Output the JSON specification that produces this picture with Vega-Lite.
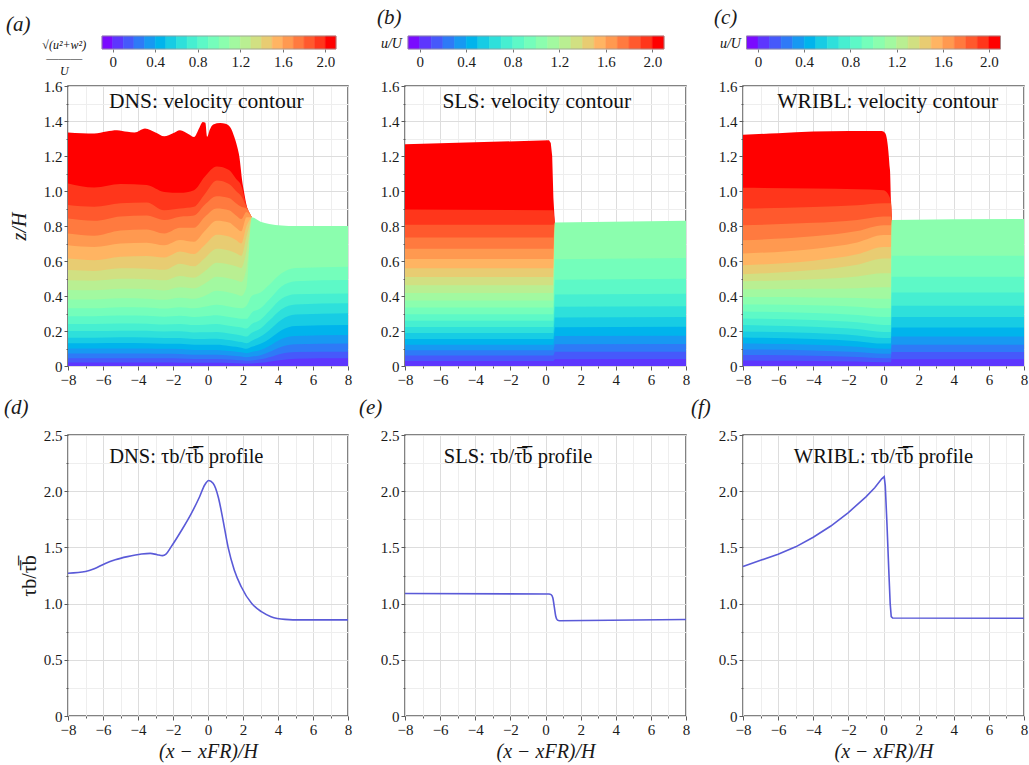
{
"$schema": "https://vega.github.io/schema/vega-lite/v6.json",
"background": "white",
"padding": {"left": 3, "top": 5, "right": 2, "bottom": 2},
"config": {
 "font": "Liberation Serif",
 "view": {"stroke": "#5a5a5a", "strokeWidth": 1.5},
 "axis": {"labelFont": "Liberation Serif", "labelFontSize": 15, "labelColor": "#1a1a1a", "titleFont": "Liberation Serif", "titleFontSize": 20, "titleFontWeight": "normal", "titleColor": "#1a1a1a", "tickColor": "#5a5a5a", "domain": false, "labelPadding": 2, "labelOverlap": false, "labelFlush": false, "labelBound": false},
 "title": {"font": "Liberation Serif", "fontSize": 21, "fontWeight": "normal", "color": "#1a1a1a", "anchor": "start", "frame": "group", "baseline": "alphabetic", "fontStyle": "italic"},
 "text": {"font": "Liberation Serif", "color": "#111111"}
},
"datasets": {
 "cbar": [
  {"k":0,"lo":-0.1,"hi":0},{"k":1,"lo":0,"hi":0.1},{"k":2,"lo":0.1,"hi":0.2},{"k":3,"lo":0.2,"hi":0.3},{"k":4,"lo":0.3,"hi":0.4},{"k":5,"lo":0.4,"hi":0.5},{"k":6,"lo":0.5,"hi":0.6},{"k":7,"lo":0.6,"hi":0.7},{"k":8,"lo":0.7,"hi":0.8},{"k":9,"lo":0.8,"hi":0.9},{"k":10,"lo":0.9,"hi":1.0},{"k":11,"lo":1.0,"hi":1.1},{"k":12,"lo":1.1,"hi":1.2},{"k":13,"lo":1.2,"hi":1.3},{"k":14,"lo":1.3,"hi":1.4},{"k":15,"lo":1.4,"hi":1.5},{"k":16,"lo":1.5,"hi":1.6},{"k":17,"lo":1.6,"hi":1.7},{"k":18,"lo":1.7,"hi":1.8},{"k":19,"lo":1.8,"hi":1.9},{"k":20,"lo":1.9,"hi":2.0},{"k":21,"lo":2.0,"hi":2.1}
 ],
 "dns": [
  {"x":-8,"k":21,"z":1.334},{"x":-7.2,"k":21,"z":1.33},{"x":-6.5,"k":21,"z":1.328},{"x":-5.8,"k":21,"z":1.34},{"x":-5.2,"k":21,"z":1.347},{"x":-4.6,"k":21,"z":1.338},{"x":-4.2,"k":21,"z":1.334},{"x":-3.6,"k":21,"z":1.357},{"x":-3,"k":21,"z":1.335},{"x":-2.5,"k":21,"z":1.313},{"x":-2,"k":21,"z":1.33},{"x":-1.6,"k":21,"z":1.347},{"x":-1.1,"k":21,"z":1.325},{"x":-0.8,"k":21,"z":1.309},{"x":-0.5,"k":21,"z":1.36},{"x":-0.3,"k":21,"z":1.395},{"x":-0.15,"k":21,"z":1.39},{"x":-0.05,"k":21,"z":1.31},{"x":0.1,"k":21,"z":1.35},{"x":0.3,"k":21,"z":1.38},{"x":0.7,"k":21,"z":1.388},{"x":1,"k":21,"z":1.385},{"x":1.3,"k":21,"z":1.36},{"x":1.5,"k":21,"z":1.31},{"x":1.65,"k":21,"z":1.26},{"x":1.8,"k":21,"z":1.19},{"x":1.95,"k":21,"z":1.06},{"x":2.05,"k":21,"z":1.0},{"x":2.2,"k":21,"z":0.92},{"x":2.35,"k":21,"z":0.87},{"x":2.5,"k":21,"z":0.85},
  {"x":-8,"k":20,"z":1.043},{"x":-6.5,"k":20,"z":1.02},{"x":-5,"k":20,"z":1.04},{"x":-3.5,"k":20,"z":1.035},{"x":-2.5,"k":20,"z":0.995},{"x":-1.6,"k":20,"z":0.99},{"x":-0.8,"k":20,"z":1.005},{"x":-0.2,"k":20,"z":1.08},{"x":0.5,"k":20,"z":1.14},{"x":1.2,"k":20,"z":1.12},{"x":1.6,"k":20,"z":1.07},{"x":1.9,"k":20,"z":1.03},{"x":2.2,"k":20,"z":0.915},{"x":2.5,"k":20,"z":0.85},
  {"x":-8,"k":19,"z":0.92},{"x":-6.5,"k":19,"z":0.91},{"x":-5,"k":19,"z":0.93},{"x":-3.5,"k":19,"z":0.935},{"x":-2.5,"k":19,"z":0.89},{"x":-1.6,"k":19,"z":0.9},{"x":-0.8,"k":19,"z":0.91},{"x":-0.2,"k":19,"z":0.98},{"x":0.5,"k":19,"z":1.06},{"x":1.2,"k":19,"z":1.04},{"x":1.6,"k":19,"z":1.0},{"x":1.9,"k":19,"z":0.97},{"x":2.2,"k":19,"z":0.91},{"x":2.5,"k":19,"z":0.85},
  {"x":-8,"k":18,"z":0.843},{"x":-6.5,"k":18,"z":0.83},{"x":-5,"k":18,"z":0.855},{"x":-3.5,"k":18,"z":0.86},{"x":-2.5,"k":18,"z":0.834},{"x":-1.6,"k":18,"z":0.853},{"x":-0.8,"k":18,"z":0.86},{"x":-0.2,"k":18,"z":0.92},{"x":0.5,"k":18,"z":0.97},{"x":1.2,"k":18,"z":0.96},{"x":1.6,"k":18,"z":0.93},{"x":1.9,"k":18,"z":0.91},{"x":2.2,"k":18,"z":0.9},{"x":2.5,"k":18,"z":0.85},
  {"x":-8,"k":17,"z":0.757},{"x":-6.5,"k":17,"z":0.745},{"x":-5,"k":17,"z":0.775},{"x":-3.5,"k":17,"z":0.78},{"x":-2.5,"k":17,"z":0.757},{"x":-1.6,"k":17,"z":0.79},{"x":-0.8,"k":17,"z":0.79},{"x":-0.2,"k":17,"z":0.85},{"x":0.5,"k":17,"z":0.9},{"x":1.2,"k":17,"z":0.89},{"x":1.6,"k":17,"z":0.86},{"x":1.9,"k":17,"z":0.84},{"x":2.2,"k":17,"z":0.88},{"x":2.5,"k":17,"z":0.85},
  {"x":-8,"k":16,"z":0.69},{"x":-6.5,"k":16,"z":0.68},{"x":-5,"k":16,"z":0.7},{"x":-3.5,"k":16,"z":0.705},{"x":-2.5,"k":16,"z":0.69},{"x":-1.6,"k":16,"z":0.72},{"x":-0.8,"k":16,"z":0.71},{"x":-0.2,"k":16,"z":0.77},{"x":0.5,"k":16,"z":0.83},{"x":1.2,"k":16,"z":0.82},{"x":1.6,"k":16,"z":0.79},{"x":1.9,"k":16,"z":0.77},{"x":2.2,"k":16,"z":0.85},{"x":2.5,"k":16,"z":0.85},
  {"x":-8,"k":15,"z":0.614},{"x":-6.5,"k":15,"z":0.605},{"x":-5,"k":15,"z":0.625},{"x":-3.5,"k":15,"z":0.628},{"x":-2.5,"k":15,"z":0.62},{"x":-1.6,"k":15,"z":0.655},{"x":-0.8,"k":15,"z":0.64},{"x":-0.2,"k":15,"z":0.69},{"x":0.5,"k":15,"z":0.75},{"x":1.2,"k":15,"z":0.74},{"x":1.6,"k":15,"z":0.72},{"x":1.9,"k":15,"z":0.7},{"x":2.2,"k":15,"z":0.8},{"x":2.5,"k":15,"z":0.85},
  {"x":-8,"k":14,"z":0.548},{"x":-6.5,"k":14,"z":0.543},{"x":-5,"k":14,"z":0.558},{"x":-3.5,"k":14,"z":0.556},{"x":-2.5,"k":14,"z":0.55},{"x":-1.6,"k":14,"z":0.585},{"x":-0.8,"k":14,"z":0.57},{"x":-0.2,"k":14,"z":0.615},{"x":0.5,"k":14,"z":0.67},{"x":1.2,"k":14,"z":0.66},{"x":1.6,"k":14,"z":0.645},{"x":1.9,"k":14,"z":0.63},{"x":2.2,"k":14,"z":0.74},{"x":2.5,"k":14,"z":0.85},
  {"x":-8,"k":13,"z":0.49},{"x":-6.5,"k":13,"z":0.487},{"x":-5,"k":13,"z":0.498},{"x":-3.5,"k":13,"z":0.496},{"x":-2.5,"k":13,"z":0.49},{"x":-1.6,"k":13,"z":0.515},{"x":-0.8,"k":13,"z":0.505},{"x":-0.2,"k":13,"z":0.54},{"x":0.5,"k":13,"z":0.59},{"x":1.2,"k":13,"z":0.58},{"x":1.6,"k":13,"z":0.57},{"x":1.9,"k":13,"z":0.56},{"x":2.2,"k":13,"z":0.66},{"x":2.5,"k":13,"z":0.85},
  {"x":-8,"k":12,"z":0.435},{"x":-6.5,"k":12,"z":0.433},{"x":-5,"k":12,"z":0.442},{"x":-3.5,"k":12,"z":0.44},{"x":-2.5,"k":12,"z":0.432},{"x":-1.6,"k":12,"z":0.45},{"x":-0.8,"k":12,"z":0.443},{"x":-0.2,"k":12,"z":0.47},{"x":0.5,"k":12,"z":0.51},{"x":1.2,"k":12,"z":0.5},{"x":1.6,"k":12,"z":0.49},{"x":1.9,"k":12,"z":0.48},{"x":2.2,"k":12,"z":0.56},{"x":2.5,"k":12,"z":0.85},
  {"x":-8,"k":11,"z":0.38},{"x":-6.5,"k":11,"z":0.38},{"x":-5,"k":11,"z":0.387},{"x":-3.5,"k":11,"z":0.385},{"x":-2.5,"k":11,"z":0.378},{"x":-1.6,"k":11,"z":0.39},{"x":-0.8,"k":11,"z":0.384},{"x":-0.2,"k":11,"z":0.4},{"x":0.5,"k":11,"z":0.43},{"x":1.2,"k":11,"z":0.42},{"x":1.6,"k":11,"z":0.41},{"x":1.9,"k":11,"z":0.4},{"x":2.2,"k":11,"z":0.45},{"x":2.5,"k":11,"z":0.85},{"x":3,"k":11,"z":0.825},{"x":3.5,"k":11,"z":0.812},{"x":4.2,"k":11,"z":0.803},{"x":5,"k":11,"z":0.8},{"x":8,"k":11,"z":0.8},
  {"x":-8,"k":10,"z":0.33},{"x":-6.5,"k":10,"z":0.33},{"x":-5,"k":10,"z":0.336},{"x":-3.5,"k":10,"z":0.334},{"x":-2.5,"k":10,"z":0.328},{"x":-1.6,"k":10,"z":0.336},{"x":-0.8,"k":10,"z":0.33},{"x":-0.2,"k":10,"z":0.338},{"x":0.5,"k":10,"z":0.35},{"x":1.2,"k":10,"z":0.34},{"x":1.6,"k":10,"z":0.333},{"x":1.9,"k":10,"z":0.33},{"x":2.2,"k":10,"z":0.345},{"x":2.5,"k":10,"z":0.4},{"x":3,"k":10,"z":0.42},{"x":3.5,"k":10,"z":0.465},{"x":4.2,"k":10,"z":0.53},{"x":5,"k":10,"z":0.56},{"x":8,"k":10,"z":0.567},
  {"x":-8,"k":9,"z":0.285},{"x":-6.5,"k":9,"z":0.285},{"x":-5,"k":9,"z":0.289},{"x":-3.5,"k":9,"z":0.287},{"x":-2.5,"k":9,"z":0.282},{"x":-1.6,"k":9,"z":0.287},{"x":-0.8,"k":9,"z":0.28},{"x":-0.2,"k":9,"z":0.284},{"x":0.5,"k":9,"z":0.29},{"x":1.2,"k":9,"z":0.28},{"x":1.6,"k":9,"z":0.274},{"x":1.9,"k":9,"z":0.27},{"x":2.2,"k":9,"z":0.27},{"x":2.5,"k":9,"z":0.305},{"x":3,"k":9,"z":0.33},{"x":3.5,"k":9,"z":0.38},{"x":4.2,"k":9,"z":0.455},{"x":5,"k":9,"z":0.485},{"x":8,"k":9,"z":0.491},
  {"x":-8,"k":8,"z":0.24},{"x":-6.5,"k":8,"z":0.24},{"x":-5,"k":8,"z":0.243},{"x":-3.5,"k":8,"z":0.242},{"x":-2.5,"k":8,"z":0.237},{"x":-1.6,"k":8,"z":0.24},{"x":-0.8,"k":8,"z":0.234},{"x":-0.2,"k":8,"z":0.236},{"x":0.5,"k":8,"z":0.24},{"x":1.2,"k":8,"z":0.23},{"x":1.6,"k":8,"z":0.224},{"x":1.9,"k":8,"z":0.22},{"x":2.2,"k":8,"z":0.214},{"x":2.5,"k":8,"z":0.24},{"x":3,"k":8,"z":0.265},{"x":3.5,"k":8,"z":0.315},{"x":4.2,"k":8,"z":0.385},{"x":5,"k":8,"z":0.41},{"x":8,"k":8,"z":0.415},
  {"x":-8,"k":7,"z":0.2},{"x":-6.5,"k":7,"z":0.2},{"x":-5,"k":7,"z":0.202},{"x":-3.5,"k":7,"z":0.201},{"x":-2.5,"k":7,"z":0.197},{"x":-1.6,"k":7,"z":0.198},{"x":-0.8,"k":7,"z":0.192},{"x":-0.2,"k":7,"z":0.193},{"x":0.5,"k":7,"z":0.195},{"x":1.2,"k":7,"z":0.186},{"x":1.6,"k":7,"z":0.18},{"x":1.9,"k":7,"z":0.175},{"x":2.2,"k":7,"z":0.168},{"x":2.5,"k":7,"z":0.19},{"x":3,"k":7,"z":0.215},{"x":3.5,"k":7,"z":0.26},{"x":4.2,"k":7,"z":0.325},{"x":5,"k":7,"z":0.352},{"x":8,"k":7,"z":0.358},
  {"x":-8,"k":6,"z":0.162},{"x":-6.5,"k":6,"z":0.162},{"x":-5,"k":6,"z":0.164},{"x":-3.5,"k":6,"z":0.163},{"x":-2.5,"k":6,"z":0.16},{"x":-1.6,"k":6,"z":0.16},{"x":-0.8,"k":6,"z":0.155},{"x":-0.2,"k":6,"z":0.155},{"x":0.5,"k":6,"z":0.156},{"x":1.2,"k":6,"z":0.148},{"x":1.6,"k":6,"z":0.142},{"x":1.9,"k":6,"z":0.137},{"x":2.2,"k":6,"z":0.13},{"x":2.5,"k":6,"z":0.145},{"x":3,"k":6,"z":0.168},{"x":3.5,"k":6,"z":0.205},{"x":4.2,"k":6,"z":0.265},{"x":5,"k":6,"z":0.294},{"x":8,"k":6,"z":0.301},
  {"x":-8,"k":5,"z":0.13},{"x":-6.5,"k":5,"z":0.13},{"x":-5,"k":5,"z":0.131},{"x":-3.5,"k":5,"z":0.13},{"x":-2.5,"k":5,"z":0.127},{"x":-1.6,"k":5,"z":0.127},{"x":-0.8,"k":5,"z":0.122},{"x":-0.2,"k":5,"z":0.122},{"x":0.5,"k":5,"z":0.122},{"x":1.2,"k":5,"z":0.115},{"x":1.6,"k":5,"z":0.11},{"x":1.9,"k":5,"z":0.105},{"x":2.2,"k":5,"z":0.099},{"x":2.5,"k":5,"z":0.11},{"x":3,"k":5,"z":0.127},{"x":3.5,"k":5,"z":0.155},{"x":4.2,"k":5,"z":0.205},{"x":5,"k":5,"z":0.228},{"x":8,"k":5,"z":0.234},
  {"x":-8,"k":4,"z":0.1},{"x":-6.5,"k":4,"z":0.1},{"x":-5,"k":4,"z":0.1},{"x":-3.5,"k":4,"z":0.1},{"x":-2.5,"k":4,"z":0.098},{"x":-1.6,"k":4,"z":0.097},{"x":-0.8,"k":4,"z":0.092},{"x":-0.2,"k":4,"z":0.092},{"x":0.5,"k":4,"z":0.092},{"x":1.2,"k":4,"z":0.086},{"x":1.6,"k":4,"z":0.082},{"x":1.9,"k":4,"z":0.078},{"x":2.2,"k":4,"z":0.073},{"x":2.5,"k":4,"z":0.08},{"x":3,"k":4,"z":0.092},{"x":3.5,"k":4,"z":0.115},{"x":4.2,"k":4,"z":0.155},{"x":5,"k":4,"z":0.172},{"x":8,"k":4,"z":0.177},
  {"x":-8,"k":3,"z":0.072},{"x":-6.5,"k":3,"z":0.072},{"x":-5,"k":3,"z":0.072},{"x":-3.5,"k":3,"z":0.072},{"x":-2.5,"k":3,"z":0.07},{"x":-1.6,"k":3,"z":0.069},{"x":-0.8,"k":3,"z":0.065},{"x":-0.2,"k":3,"z":0.065},{"x":0.5,"k":3,"z":0.065},{"x":1.2,"k":3,"z":0.06},{"x":1.6,"k":3,"z":0.057},{"x":1.9,"k":3,"z":0.054},{"x":2.2,"k":3,"z":0.05},{"x":2.5,"k":3,"z":0.054},{"x":3,"k":3,"z":0.062},{"x":3.5,"k":3,"z":0.08},{"x":4.2,"k":3,"z":0.11},{"x":5,"k":3,"z":0.125},{"x":8,"k":3,"z":0.129},
  {"x":-8,"k":2,"z":0.045},{"x":-6.5,"k":2,"z":0.045},{"x":-5,"k":2,"z":0.045},{"x":-3.5,"k":2,"z":0.045},{"x":-2.5,"k":2,"z":0.044},{"x":-1.6,"k":2,"z":0.043},{"x":-0.8,"k":2,"z":0.04},{"x":-0.2,"k":2,"z":0.04},{"x":0.5,"k":2,"z":0.04},{"x":1.2,"k":2,"z":0.037},{"x":1.6,"k":2,"z":0.035},{"x":1.9,"k":2,"z":0.033},{"x":2.2,"k":2,"z":0.03},{"x":2.5,"k":2,"z":0.032},{"x":3,"k":2,"z":0.038},{"x":3.5,"k":2,"z":0.05},{"x":4.2,"k":2,"z":0.07},{"x":5,"k":2,"z":0.08},{"x":8,"k":2,"z":0.082},
  {"x":-8,"k":1,"z":0.02},{"x":-6.5,"k":1,"z":0.02},{"x":-5,"k":1,"z":0.02},{"x":-3.5,"k":1,"z":0.02},{"x":-2.5,"k":1,"z":0.02},{"x":-1.6,"k":1,"z":0.019},{"x":-0.8,"k":1,"z":0.018},{"x":-0.2,"k":1,"z":0.018},{"x":0.5,"k":1,"z":0.018},{"x":1.2,"k":1,"z":0.017},{"x":1.6,"k":1,"z":0.016},{"x":1.9,"k":1,"z":0.015},{"x":2.2,"k":1,"z":0.014},{"x":2.5,"k":1,"z":0.015},{"x":3,"k":1,"z":0.018},{"x":3.5,"k":1,"z":0.025},{"x":4.2,"k":1,"z":0.035},{"x":5,"k":1,"z":0.042},{"x":8,"k":1,"z":0.044}
 ],
 "sls": [
  {"x":-8,"k":21,"z":1.267},{"x":0.2,"k":21,"z":1.29},{"x":0.3,"k":21,"z":1.275},{"x":0.38,"k":21,"z":1.2},{"x":0.45,"k":21,"z":0.96},{"x":0.53,"k":21,"z":0.82},
  {"x":-8,"k":20,"z":0.894},{"x":0.2,"k":20,"z":0.89},{"x":0.45,"k":20,"z":0.89},{"x":0.53,"k":20,"z":0.82},
  {"x":-8,"k":19,"z":0.807},{"x":0.2,"k":19,"z":0.807},{"x":0.45,"k":19,"z":0.807},{"x":0.53,"k":19,"z":0.82},
  {"x":-8,"k":18,"z":0.734},{"x":0.2,"k":18,"z":0.734},{"x":0.45,"k":18,"z":0.734},{"x":0.53,"k":18,"z":0.82},
  {"x":-8,"k":17,"z":0.67},{"x":0.2,"k":17,"z":0.67},{"x":0.45,"k":17,"z":0.67},{"x":0.53,"k":17,"z":0.82},
  {"x":-8,"k":16,"z":0.612},{"x":0.2,"k":16,"z":0.612},{"x":0.45,"k":16,"z":0.612},{"x":0.53,"k":16,"z":0.82},
  {"x":-8,"k":15,"z":0.558},{"x":0.2,"k":15,"z":0.558},{"x":0.45,"k":15,"z":0.558},{"x":0.53,"k":15,"z":0.82},
  {"x":-8,"k":14,"z":0.508},{"x":0.2,"k":14,"z":0.508},{"x":0.45,"k":14,"z":0.508},{"x":0.53,"k":14,"z":0.82},
  {"x":-8,"k":13,"z":0.461},{"x":0.2,"k":13,"z":0.461},{"x":0.45,"k":13,"z":0.461},{"x":0.53,"k":13,"z":0.82},
  {"x":-8,"k":12,"z":0.417},{"x":0.2,"k":12,"z":0.417},{"x":0.45,"k":12,"z":0.417},{"x":0.53,"k":12,"z":0.82},
  {"x":-8,"k":11,"z":0.375},{"x":0.2,"k":11,"z":0.375},{"x":0.45,"k":11,"z":0.375},{"x":0.53,"k":11,"z":0.82},{"x":8,"k":11,"z":0.83},
  {"x":-8,"k":10,"z":0.335},{"x":0.2,"k":10,"z":0.335},{"x":0.45,"k":10,"z":0.335},{"x":0.53,"k":10,"z":0.61},{"x":8,"k":10,"z":0.617},
  {"x":-8,"k":9,"z":0.296},{"x":0.2,"k":9,"z":0.296},{"x":0.45,"k":9,"z":0.296},{"x":0.53,"k":9,"z":0.493},{"x":8,"k":9,"z":0.499},
  {"x":-8,"k":8,"z":0.259},{"x":0.2,"k":8,"z":0.259},{"x":0.45,"k":8,"z":0.259},{"x":0.53,"k":8,"z":0.408},{"x":8,"k":8,"z":0.413},
  {"x":-8,"k":7,"z":0.223},{"x":0.2,"k":7,"z":0.223},{"x":0.45,"k":7,"z":0.223},{"x":0.53,"k":7,"z":0.338},{"x":8,"k":7,"z":0.342},
  {"x":-8,"k":6,"z":0.188},{"x":0.2,"k":6,"z":0.188},{"x":0.45,"k":6,"z":0.188},{"x":0.53,"k":6,"z":0.277},{"x":8,"k":6,"z":0.28},
  {"x":-8,"k":5,"z":0.155},{"x":0.2,"k":5,"z":0.155},{"x":0.45,"k":5,"z":0.155},{"x":0.53,"k":5,"z":0.221},{"x":8,"k":5,"z":0.224},
  {"x":-8,"k":4,"z":0.122},{"x":0.2,"k":4,"z":0.122},{"x":0.45,"k":4,"z":0.122},{"x":0.53,"k":4,"z":0.171},{"x":8,"k":4,"z":0.173},
  {"x":-8,"k":3,"z":0.09},{"x":0.2,"k":3,"z":0.09},{"x":0.45,"k":3,"z":0.09},{"x":0.53,"k":3,"z":0.124},{"x":8,"k":3,"z":0.126},
  {"x":-8,"k":2,"z":0.06},{"x":0.2,"k":2,"z":0.06},{"x":0.45,"k":2,"z":0.06},{"x":0.53,"k":2,"z":0.081},{"x":8,"k":2,"z":0.082},
  {"x":-8,"k":1,"z":0.029},{"x":0.2,"k":1,"z":0.029},{"x":0.45,"k":1,"z":0.029},{"x":0.53,"k":1,"z":0.039},{"x":8,"k":1,"z":0.04}
 ],
 "wribl": [
  {"x":-8,"k":21,"z":1.322},{"x":-6,"k":21,"z":1.33},{"x":-4,"k":21,"z":1.34},{"x":-2,"k":21,"z":1.343},{"x":-0.1,"k":21,"z":1.343},{"x":0.1,"k":21,"z":1.33},{"x":0.37,"k":21,"z":1.12},{"x":0.42,"k":21,"z":0.95},{"x":0.47,"k":21,"z":0.835},
  {"x":-8,"k":20,"z":1.018},{"x":-4,"k":20,"z":1.015},{"x":-1.5,"k":20,"z":1.01},{"x":0,"k":20,"z":1.005},{"x":0.42,"k":20,"z":0.95},{"x":0.47,"k":20,"z":0.835},
  {"x":-8,"k":19,"z":0.9},{"x":-4,"k":19,"z":0.908},{"x":-1.5,"k":19,"z":0.918},{"x":0,"k":19,"z":0.93},{"x":0.42,"k":19,"z":0.93},{"x":0.47,"k":19,"z":0.835},
  {"x":-8,"k":18,"z":0.805},{"x":-4,"k":18,"z":0.818},{"x":-1.5,"k":18,"z":0.835},{"x":0,"k":18,"z":0.855},{"x":0.42,"k":18,"z":0.855},{"x":0.47,"k":18,"z":0.835},
  {"x":-8,"k":17,"z":0.719},{"x":-4,"k":17,"z":0.741},{"x":-1.5,"k":17,"z":0.771},{"x":0,"k":17,"z":0.805},{"x":0.42,"k":17,"z":0.805},{"x":0.47,"k":17,"z":0.835},
  {"x":-8,"k":16,"z":0.643},{"x":-4,"k":16,"z":0.669},{"x":-1.5,"k":16,"z":0.706},{"x":0,"k":16,"z":0.748},{"x":0.42,"k":16,"z":0.748},{"x":0.47,"k":16,"z":0.835},
  {"x":-8,"k":15,"z":0.576},{"x":-4,"k":15,"z":0.602},{"x":-1.5,"k":15,"z":0.638},{"x":0,"k":15,"z":0.68},{"x":0.42,"k":15,"z":0.68},{"x":0.47,"k":15,"z":0.835},
  {"x":-8,"k":14,"z":0.525},{"x":-4,"k":14,"z":0.548},{"x":-1.5,"k":14,"z":0.579},{"x":0,"k":14,"z":0.615},{"x":0.42,"k":14,"z":0.615},{"x":0.47,"k":14,"z":0.835},
  {"x":-8,"k":13,"z":0.484},{"x":-4,"k":13,"z":0.496},{"x":-1.5,"k":13,"z":0.512},{"x":0,"k":13,"z":0.53},{"x":0.42,"k":13,"z":0.53},{"x":0.47,"k":13,"z":0.835},
  {"x":-8,"k":12,"z":0.438},{"x":-4,"k":12,"z":0.441},{"x":-1.5,"k":12,"z":0.445},{"x":0,"k":12,"z":0.45},{"x":0.42,"k":12,"z":0.45},{"x":0.47,"k":12,"z":0.835},
  {"x":-8,"k":11,"z":0.394},{"x":-4,"k":11,"z":0.392},{"x":-1.5,"k":11,"z":0.389},{"x":0,"k":11,"z":0.385},{"x":0.42,"k":11,"z":0.385},{"x":0.47,"k":11,"z":0.835},{"x":8,"k":11,"z":0.84},
  {"x":-8,"k":10,"z":0.352},{"x":-4,"k":10,"z":0.347},{"x":-1.5,"k":10,"z":0.339},{"x":0,"k":10,"z":0.33},{"x":0.42,"k":10,"z":0.33},{"x":0.47,"k":10,"z":0.63},{"x":8,"k":10,"z":0.63},
  {"x":-8,"k":9,"z":0.311},{"x":-4,"k":9,"z":0.303},{"x":-1.5,"k":9,"z":0.292},{"x":0,"k":9,"z":0.28},{"x":0.42,"k":9,"z":0.28},{"x":0.47,"k":9,"z":0.51},{"x":8,"k":9,"z":0.51},
  {"x":-8,"k":8,"z":0.272},{"x":-4,"k":8,"z":0.263},{"x":-1.5,"k":8,"z":0.25},{"x":0,"k":8,"z":0.235},{"x":0.42,"k":8,"z":0.235},{"x":0.47,"k":8,"z":0.42},{"x":8,"k":8,"z":0.42},
  {"x":-8,"k":7,"z":0.234},{"x":-4,"k":7,"z":0.224},{"x":-1.5,"k":7,"z":0.211},{"x":0,"k":7,"z":0.195},{"x":0.42,"k":7,"z":0.195},{"x":0.47,"k":7,"z":0.345},{"x":8,"k":7,"z":0.345},
  {"x":-8,"k":6,"z":0.197},{"x":-4,"k":6,"z":0.188},{"x":-1.5,"k":6,"z":0.175},{"x":0,"k":6,"z":0.16},{"x":0.42,"k":6,"z":0.16},{"x":0.47,"k":6,"z":0.28},{"x":8,"k":6,"z":0.28},
  {"x":-8,"k":5,"z":0.163},{"x":-4,"k":5,"z":0.154},{"x":-1.5,"k":5,"z":0.142},{"x":0,"k":5,"z":0.128},{"x":0.42,"k":5,"z":0.128},{"x":0.47,"k":5,"z":0.22},{"x":8,"k":5,"z":0.22},
  {"x":-8,"k":4,"z":0.128},{"x":-4,"k":4,"z":0.121},{"x":-1.5,"k":4,"z":0.11},{"x":0,"k":4,"z":0.098},{"x":0.42,"k":4,"z":0.098},{"x":0.47,"k":4,"z":0.168},{"x":8,"k":4,"z":0.168},
  {"x":-8,"k":3,"z":0.095},{"x":-4,"k":3,"z":0.089},{"x":-1.5,"k":3,"z":0.08},{"x":0,"k":3,"z":0.07},{"x":0.42,"k":3,"z":0.07},{"x":0.47,"k":3,"z":0.122},{"x":8,"k":3,"z":0.122},
  {"x":-8,"k":2,"z":0.063},{"x":-4,"k":2,"z":0.059},{"x":-1.5,"k":2,"z":0.052},{"x":0,"k":2,"z":0.045},{"x":0.42,"k":2,"z":0.045},{"x":0.47,"k":2,"z":0.08},{"x":8,"k":2,"z":0.08},
  {"x":-8,"k":1,"z":0.031},{"x":-4,"k":1,"z":0.029},{"x":-1.5,"k":1,"z":0.026},{"x":0,"k":1,"z":0.022},{"x":0.42,"k":1,"z":0.022},{"x":0.47,"k":1,"z":0.039},{"x":8,"k":1,"z":0.039}
 ],
 "tdns": [
  {"x":-8,"t":1.27},{"x":-7,"t":1.285},{"x":-6.5,"t":1.31},{"x":-5.9,"t":1.355},{"x":-5.3,"t":1.39},{"x":-4.6,"t":1.418},{"x":-3.8,"t":1.441},{"x":-3.3,"t":1.447},{"x":-2.9,"t":1.435},{"x":-2.6,"t":1.427},{"x":-2.4,"t":1.44},{"x":-2.1,"t":1.507},{"x":-1.5,"t":1.655},{"x":-0.95,"t":1.803},{"x":-0.48,"t":1.951},{"x":-0.19,"t":2.055},{"x":0.04,"t":2.095},{"x":0.29,"t":2.07},{"x":0.6,"t":1.94},{"x":0.85,"t":1.75},{"x":1.15,"t":1.5},{"x":1.5,"t":1.3},{"x":1.9,"t":1.15},{"x":2.5,"t":1.0},{"x":3.05,"t":0.928},{"x":3.6,"t":0.884},{"x":4.4,"t":0.86},{"x":5.3,"t":0.855},{"x":8,"t":0.855}
 ],
 "tsls": [
  {"x":-8,"t":1.09},{"x":0.2,"t":1.085},{"x":0.32,"t":1.08},{"x":0.42,"t":1.05},{"x":0.5,"t":0.97},{"x":0.58,"t":0.89},{"x":0.68,"t":0.853},{"x":0.8,"t":0.848},{"x":8,"t":0.858}
 ],
 "twribl": [
  {"x":-8,"t":1.329},{"x":-7,"t":1.385},{"x":-6,"t":1.44},{"x":-5,"t":1.505},{"x":-4,"t":1.59},{"x":-3,"t":1.69},{"x":-2,"t":1.81},{"x":-1,"t":1.95},{"x":-0.5,"t":2.03},{"x":-0.1,"t":2.11},{"x":0.04,"t":2.13},{"x":0.1,"t":2.05},{"x":0.2,"t":1.7},{"x":0.3,"t":1.3},{"x":0.38,"t":1.0},{"x":0.44,"t":0.885},{"x":0.52,"t":0.872},{"x":8,"t":0.869}
 ]
},
"vconcat": [
 {"hconcat": [
  {"width": 280, "height": 280,
   "title": {"text": "(a)", "dx": -62, "offset": 1},
   "resolve": {"scale": {"x": "independent", "y": "independent", "color": "independent"}, "axis": {"x": "independent", "y": "independent"}},
   "layer": [
    {"layer": [
     {"data": {"name": "dns"}, "mark": {"type": "area", "interpolate": "monotone"},
      "encoding": {
       "x": {"field": "x", "type": "quantitative", "scale": {"domain": [-8, 8], "nice": false},
             "axis": {"orient": "bottom", "tickCount": 100, "values": [-8,-7,-6,-5,-4,-3,-2,-1,0,1,2,3,4,5,6,7,8], "labelExpr": "datum.value % 2 === 0 ? format(datum.value, 'd') : ''", "title": null, "grid": true, "gridColor": {"condition": {"test": "datum.value % 2 === 0", "value": "#dddddd"}, "value": "#eeeeee"}, "tickSize": {"condition": {"test": "datum.value % 2 === 0", "value": 4}, "value": 2}}},
       "y": {"field": "z", "type": "quantitative", "stack": null, "scale": {"domain": [0, 1.6], "nice": false},
             "axis": {"orient": "left", "tickCount": 100, "values": [0,0.1,0.2,0.3,0.4,0.5,0.6,0.7,0.8,0.9,1,1.1,1.2,1.3,1.4,1.5,1.6], "labelExpr": "abs(datum.value*5-round(datum.value*5)) < 0.001 ? (datum.value == 0 ? '0' : format(datum.value, '.1f')) : ''", "title": "z/H", "titleFontStyle": "italic", "titlePadding": 14, "grid": true, "gridColor": {"condition": {"test": "abs(datum.value*5-round(datum.value*5)) < 0.001", "value": "#dddddd"}, "value": "#eeeeee"}, "tickSize": {"condition": {"test": "abs(datum.value*5-round(datum.value*5)) < 0.001", "value": 4}, "value": 2}}},
       "color": {"field": "k", "type": "ordinal", "legend": null, "scale": {"domain": [0,1,2,3,4,5,6,7,8,9,10,11,12,13,14,15,16,17,18,19,20,21], "range": ["#7a0aff","#5d36fe","#4659fb","#2e7af7","#1799f2","#00b4ec","#17cce4","#2ee0db","#46efd1","#5df9c7","#74febb","#8bfeae","#a2f9a0","#b9ef92","#d1e082","#e8cc72","#ffb462","#ff9950","#ff7a3f","#ff592d","#ff361b","#ff0000"]}}
      }},
     {"data": {"values": [{}]}, "mark": {"type": "text", "text": "DNS: velocity contour", "fontSize": 21.5},
      "encoding": {"x": {"datum": -0.1}, "y": {"datum": 1.507}}}
    ]},
    {"layer": [
     {"data": {"name": "cbar"}, "mark": {"type": "rect", "strokeWidth": 0.6},
      "encoding": {
       "x": {"field": "lo", "type": "quantitative", "scale": {"domain": [-0.1, 2.1], "range": [34, 268], "nice": false, "zero": false},
             "axis": {"orient": "bottom", "offset": -317, "tickCount": 100, "values": [0,0.4,0.8,1.2,1.6,2.0], "labelExpr": "datum.value == 0 ? '0' : format(datum.value, '.1f')", "grid": false, "title": null, "tickSize": 3, "tickColor": "#777777", "labelPadding": 2}},
       "x2": {"field": "hi"},
       "y": {"datum": 0, "type": "quantitative", "scale": {"domain": [0, 1], "range": [-37, -50]}, "axis": null},
       "y2": {"datum": 1},
       "color": {"field": "k", "type": "ordinal", "legend": null, "scale": {"domain": [0,1,2,3,4,5,6,7,8,9,10,11,12,13,14,15,16,17,18,19,20,21], "range": ["#7a0aff","#5d36fe","#4659fb","#2e7af7","#1799f2","#00b4ec","#17cce4","#2ee0db","#46efd1","#5df9c7","#74febb","#8bfeae","#a2f9a0","#b9ef92","#d1e082","#e8cc72","#ffb462","#ff9950","#ff7a3f","#ff592d","#ff361b","#ff0000"]}},
       "stroke": {"field": "k", "type": "ordinal", "legend": null, "scale": {"domain": [0,1,2,3,4,5,6,7,8,9,10,11,12,13,14,15,16,17,18,19,20,21], "range": ["#7a0aff","#5d36fe","#4659fb","#2e7af7","#1799f2","#00b4ec","#17cce4","#2ee0db","#46efd1","#5df9c7","#74febb","#8bfeae","#a2f9a0","#b9ef92","#d1e082","#e8cc72","#ffb462","#ff9950","#ff7a3f","#ff592d","#ff361b","#ff0000"]}}
      }},
     {"data": {"values": [{}]}, "mark": {"type": "rect", "fill": null, "stroke": "#999999", "strokeWidth": 0.8},
      "encoding": {"x": {"datum": -0.1}, "x2": {"datum": 2.1}, "y": {"datum": 0}, "y2": {"datum": 1}}},
     {"data": {"values": [{}]}, "mark": {"type": "text", "text": ["√(u²+w²)", "―――", "U"], "align": "center", "baseline": "middle", "fontSize": 12, "fontStyle": "italic", "lineHeight": 13},
      "encoding": {"x": {"datum": -0.455}, "y": {"datum": 0.3}}}
    ]}
   ]},
  {"width": 281, "height": 280,
   "title": {"text": "(b)", "dx": -28, "offset": 8},
   "resolve": {"scale": {"x": "independent", "y": "independent", "color": "independent"}, "axis": {"x": "independent", "y": "independent"}},
   "layer": [
    {"layer": [
     {"data": {"name": "sls"}, "mark": {"type": "area", "interpolate": "linear"},
      "encoding": {
       "x": {"field": "x", "type": "quantitative", "scale": {"domain": [-8, 8], "nice": false},
             "axis": {"orient": "bottom", "tickCount": 100, "values": [-8,-7,-6,-5,-4,-3,-2,-1,0,1,2,3,4,5,6,7,8], "labelExpr": "datum.value % 2 === 0 ? format(datum.value, 'd') : ''", "title": null, "grid": true, "gridColor": {"condition": {"test": "datum.value % 2 === 0", "value": "#dddddd"}, "value": "#eeeeee"}, "tickSize": {"condition": {"test": "datum.value % 2 === 0", "value": 4}, "value": 2}}},
       "y": {"field": "z", "type": "quantitative", "stack": null, "scale": {"domain": [0, 1.6], "nice": false},
             "axis": {"orient": "left", "tickCount": 100, "values": [0,0.1,0.2,0.3,0.4,0.5,0.6,0.7,0.8,0.9,1,1.1,1.2,1.3,1.4,1.5,1.6], "labelExpr": "abs(datum.value*5-round(datum.value*5)) < 0.001 ? (datum.value == 0 ? '0' : format(datum.value, '.1f')) : ''", "title": null, "grid": true, "gridColor": {"condition": {"test": "abs(datum.value*5-round(datum.value*5)) < 0.001", "value": "#dddddd"}, "value": "#eeeeee"}, "tickSize": {"condition": {"test": "abs(datum.value*5-round(datum.value*5)) < 0.001", "value": 4}, "value": 2}}},
       "color": {"field": "k", "type": "ordinal", "legend": null, "scale": {"domain": [0,1,2,3,4,5,6,7,8,9,10,11,12,13,14,15,16,17,18,19,20,21], "range": ["#7a0aff","#5d36fe","#4659fb","#2e7af7","#1799f2","#00b4ec","#17cce4","#2ee0db","#46efd1","#5df9c7","#74febb","#8bfeae","#a2f9a0","#b9ef92","#d1e082","#e8cc72","#ffb462","#ff9950","#ff7a3f","#ff592d","#ff361b","#ff0000"]}}
      }},
     {"data": {"values": [{}]}, "mark": {"type": "text", "text": "SLS: velocity contour", "fontSize": 21.5},
      "encoding": {"x": {"datum": -0.5}, "y": {"datum": 1.507}}}
    ]},
    {"layer": [
     {"data": {"name": "cbar"}, "mark": {"type": "rect", "strokeWidth": 0.6},
      "encoding": {
       "x": {"field": "lo", "type": "quantitative", "scale": {"domain": [-0.1, 2.1], "range": [3, 259], "nice": false, "zero": false},
             "axis": {"orient": "bottom", "offset": -317, "tickCount": 100, "values": [0,0.4,0.8,1.2,1.6,2.0], "labelExpr": "datum.value == 0 ? '0' : format(datum.value, '.1f')", "grid": false, "title": null, "tickSize": 3, "tickColor": "#777777", "labelPadding": 2}},
       "x2": {"field": "hi"},
       "y": {"datum": 0, "type": "quantitative", "scale": {"domain": [0, 1], "range": [-37, -50]}, "axis": null},
       "y2": {"datum": 1},
       "color": {"field": "k", "type": "ordinal", "legend": null, "scale": {"domain": [0,1,2,3,4,5,6,7,8,9,10,11,12,13,14,15,16,17,18,19,20,21], "range": ["#7a0aff","#5d36fe","#4659fb","#2e7af7","#1799f2","#00b4ec","#17cce4","#2ee0db","#46efd1","#5df9c7","#74febb","#8bfeae","#a2f9a0","#b9ef92","#d1e082","#e8cc72","#ffb462","#ff9950","#ff7a3f","#ff592d","#ff361b","#ff0000"]}},
       "stroke": {"field": "k", "type": "ordinal", "legend": null, "scale": {"domain": [0,1,2,3,4,5,6,7,8,9,10,11,12,13,14,15,16,17,18,19,20,21], "range": ["#7a0aff","#5d36fe","#4659fb","#2e7af7","#1799f2","#00b4ec","#17cce4","#2ee0db","#46efd1","#5df9c7","#74febb","#8bfeae","#a2f9a0","#b9ef92","#d1e082","#e8cc72","#ffb462","#ff9950","#ff7a3f","#ff592d","#ff361b","#ff0000"]}}
      }},
     {"data": {"values": [{}]}, "mark": {"type": "rect", "fill": null, "stroke": "#999999", "strokeWidth": 0.8},
      "encoding": {"x": {"datum": -0.1}, "x2": {"datum": 2.1}, "y": {"datum": 0}, "y2": {"datum": 1}}},
     {"data": {"values": [{}]}, "mark": {"type": "text", "text": "u/U", "align": "right", "baseline": "middle", "fontSize": 14, "fontStyle": "italic"},
      "encoding": {"x": {"datum": -0.152}, "y": {"datum": 0.4}}}
    ]}
   ]},
  {"width": 281, "height": 280,
   "title": {"text": "(c)", "dx": -29, "offset": 8},
   "resolve": {"scale": {"x": "independent", "y": "independent", "color": "independent"}, "axis": {"x": "independent", "y": "independent"}},
   "layer": [
    {"layer": [
     {"data": {"name": "wribl"}, "mark": {"type": "area", "interpolate": "monotone"},
      "encoding": {
       "x": {"field": "x", "type": "quantitative", "scale": {"domain": [-8, 8], "nice": false},
             "axis": {"orient": "bottom", "tickCount": 100, "values": [-8,-7,-6,-5,-4,-3,-2,-1,0,1,2,3,4,5,6,7,8], "labelExpr": "datum.value % 2 === 0 ? format(datum.value, 'd') : ''", "title": null, "grid": true, "gridColor": {"condition": {"test": "datum.value % 2 === 0", "value": "#dddddd"}, "value": "#eeeeee"}, "tickSize": {"condition": {"test": "datum.value % 2 === 0", "value": 4}, "value": 2}}},
       "y": {"field": "z", "type": "quantitative", "stack": null, "scale": {"domain": [0, 1.6], "nice": false},
             "axis": {"orient": "left", "tickCount": 100, "values": [0,0.1,0.2,0.3,0.4,0.5,0.6,0.7,0.8,0.9,1,1.1,1.2,1.3,1.4,1.5,1.6], "labelExpr": "abs(datum.value*5-round(datum.value*5)) < 0.001 ? (datum.value == 0 ? '0' : format(datum.value, '.1f')) : ''", "title": null, "grid": true, "gridColor": {"condition": {"test": "abs(datum.value*5-round(datum.value*5)) < 0.001", "value": "#dddddd"}, "value": "#eeeeee"}, "tickSize": {"condition": {"test": "abs(datum.value*5-round(datum.value*5)) < 0.001", "value": 4}, "value": 2}}},
       "color": {"field": "k", "type": "ordinal", "legend": null, "scale": {"domain": [0,1,2,3,4,5,6,7,8,9,10,11,12,13,14,15,16,17,18,19,20,21], "range": ["#7a0aff","#5d36fe","#4659fb","#2e7af7","#1799f2","#00b4ec","#17cce4","#2ee0db","#46efd1","#5df9c7","#74febb","#8bfeae","#a2f9a0","#b9ef92","#d1e082","#e8cc72","#ffb462","#ff9950","#ff7a3f","#ff592d","#ff361b","#ff0000"]}}
      }},
     {"data": {"values": [{}]}, "mark": {"type": "text", "text": "WRIBL: velocity contour", "fontSize": 21.5},
      "encoding": {"x": {"datum": 0.24}, "y": {"datum": 1.507}}}
    ]},
    {"layer": [
     {"data": {"name": "cbar"}, "mark": {"type": "rect", "strokeWidth": 0.6},
      "encoding": {
       "x": {"field": "lo", "type": "quantitative", "scale": {"domain": [-0.1, 2.1], "range": [3.5, 257.5], "nice": false, "zero": false},
             "axis": {"orient": "bottom", "offset": -317, "tickCount": 100, "values": [0,0.4,0.8,1.2,1.6,2.0], "labelExpr": "datum.value == 0 ? '0' : format(datum.value, '.1f')", "grid": false, "title": null, "tickSize": 3, "tickColor": "#777777", "labelPadding": 2}},
       "x2": {"field": "hi"},
       "y": {"datum": 0, "type": "quantitative", "scale": {"domain": [0, 1], "range": [-37, -50]}, "axis": null},
       "y2": {"datum": 1},
       "color": {"field": "k", "type": "ordinal", "legend": null, "scale": {"domain": [0,1,2,3,4,5,6,7,8,9,10,11,12,13,14,15,16,17,18,19,20,21], "range": ["#7a0aff","#5d36fe","#4659fb","#2e7af7","#1799f2","#00b4ec","#17cce4","#2ee0db","#46efd1","#5df9c7","#74febb","#8bfeae","#a2f9a0","#b9ef92","#d1e082","#e8cc72","#ffb462","#ff9950","#ff7a3f","#ff592d","#ff361b","#ff0000"]}},
       "stroke": {"field": "k", "type": "ordinal", "legend": null, "scale": {"domain": [0,1,2,3,4,5,6,7,8,9,10,11,12,13,14,15,16,17,18,19,20,21], "range": ["#7a0aff","#5d36fe","#4659fb","#2e7af7","#1799f2","#00b4ec","#17cce4","#2ee0db","#46efd1","#5df9c7","#74febb","#8bfeae","#a2f9a0","#b9ef92","#d1e082","#e8cc72","#ffb462","#ff9950","#ff7a3f","#ff592d","#ff361b","#ff0000"]}}
      }},
     {"data": {"values": [{}]}, "mark": {"type": "rect", "fill": null, "stroke": "#999999", "strokeWidth": 0.8},
      "encoding": {"x": {"datum": -0.1}, "x2": {"datum": 2.1}, "y": {"datum": 0}, "y2": {"datum": 1}}},
     {"data": {"values": [{}]}, "mark": {"type": "text", "text": "u/U", "align": "right", "baseline": "middle", "fontSize": 14, "fontStyle": "italic"},
      "encoding": {"x": {"datum": -0.148}, "y": {"datum": 0.4}}}
    ]}
   ]}
 ], "spacing": 57, "bounds": "flush"},
 {"hconcat": [
  {"width": 280, "height": 281,
   "title": {"text": "(d)", "dx": -64, "offset": 10},
   "layer": [
    {"data": {"name": "tdns"}, "mark": {"type": "line", "color": "#5a5ad8", "strokeWidth": 1.6, "interpolate": "monotone"},
     "encoding": {
      "x": {"field": "x", "type": "quantitative", "scale": {"domain": [-8, 8], "nice": false},
            "axis": {"tickCount": 100, "values": [-8,-7,-6,-5,-4,-3,-2,-1,0,1,2,3,4,5,6,7,8], "labelExpr": "datum.value % 2 === 0 ? format(datum.value, 'd') : ''", "title": "(x − xFR)/H", "titleFontStyle": "italic", "titlePadding": 4, "grid": true, "gridColor": {"condition": {"test": "datum.value % 2 === 0", "value": "#dddddd"}, "value": "#eeeeee"}, "tickSize": {"condition": {"test": "datum.value % 2 === 0", "value": 4}, "value": 2}}},
      "y": {"field": "t", "type": "quantitative", "scale": {"domain": [0, 2.5], "nice": false},
            "axis": {"tickCount": 100, "values": [0,0.25,0.5,0.75,1,1.25,1.5,1.75,2,2.25,2.5], "labelExpr": "abs(datum.value*2-round(datum.value*2)) < 0.001 ? (datum.value == 0 ? '0' : format(datum.value, '.1f')) : ''", "title": "τb/τ̅b̅", "titlePadding": 4, "grid": true, "gridColor": {"condition": {"test": "abs(datum.value*2-round(datum.value*2)) < 0.001", "value": "#dddddd"}, "value": "#eeeeee"}, "tickSize": {"condition": {"test": "abs(datum.value*2-round(datum.value*2)) < 0.001", "value": 4}, "value": 2}}}
     }},
    {"data": {"values": [{}]}, "mark": {"type": "text", "text": "DNS: τb/τ̅b̅ profile", "fontSize": 20.5},
     "encoding": {"x": {"datum": -1.24}, "y": {"datum": 2.3}}}
   ]},
  {"width": 281, "height": 281,
   "title": {"text": "(e)", "dx": -46, "offset": 10},
   "layer": [
    {"data": {"name": "tsls"}, "mark": {"type": "line", "color": "#5a5ad8", "strokeWidth": 1.6, "interpolate": "monotone"},
     "encoding": {
      "x": {"field": "x", "type": "quantitative", "scale": {"domain": [-8, 8], "nice": false},
            "axis": {"tickCount": 100, "values": [-8,-7,-6,-5,-4,-3,-2,-1,0,1,2,3,4,5,6,7,8], "labelExpr": "datum.value % 2 === 0 ? format(datum.value, 'd') : ''", "title": "(x − xFR)/H", "titleFontStyle": "italic", "titlePadding": 4, "grid": true, "gridColor": {"condition": {"test": "datum.value % 2 === 0", "value": "#dddddd"}, "value": "#eeeeee"}, "tickSize": {"condition": {"test": "datum.value % 2 === 0", "value": 4}, "value": 2}}},
      "y": {"field": "t", "type": "quantitative", "scale": {"domain": [0, 2.5], "nice": false},
            "axis": {"tickCount": 100, "values": [0,0.25,0.5,0.75,1,1.25,1.5,1.75,2,2.25,2.5], "labelExpr": "abs(datum.value*2-round(datum.value*2)) < 0.001 ? (datum.value == 0 ? '0' : format(datum.value, '.1f')) : ''", "title": null, "grid": true, "gridColor": {"condition": {"test": "abs(datum.value*2-round(datum.value*2)) < 0.001", "value": "#dddddd"}, "value": "#eeeeee"}, "tickSize": {"condition": {"test": "abs(datum.value*2-round(datum.value*2)) < 0.001", "value": 4}, "value": 2}}}
     }},
    {"data": {"values": [{}]}, "mark": {"type": "text", "text": "SLS: τb/τ̅b̅ profile", "fontSize": 20.5},
     "encoding": {"x": {"datum": -1.56}, "y": {"datum": 2.3}}}
   ]},
  {"width": 281, "height": 281,
   "title": {"text": "(f)", "dx": -52, "offset": 10},
   "layer": [
    {"data": {"name": "twribl"}, "mark": {"type": "line", "color": "#5a5ad8", "strokeWidth": 1.6, "interpolate": "linear"},
     "encoding": {
      "x": {"field": "x", "type": "quantitative", "scale": {"domain": [-8, 8], "nice": false},
            "axis": {"tickCount": 100, "values": [-8,-7,-6,-5,-4,-3,-2,-1,0,1,2,3,4,5,6,7,8], "labelExpr": "datum.value % 2 === 0 ? format(datum.value, 'd') : ''", "title": "(x − xFR)/H", "titleFontStyle": "italic", "titlePadding": 4, "grid": true, "gridColor": {"condition": {"test": "datum.value % 2 === 0", "value": "#dddddd"}, "value": "#eeeeee"}, "tickSize": {"condition": {"test": "datum.value % 2 === 0", "value": 4}, "value": 2}}},
      "y": {"field": "t", "type": "quantitative", "scale": {"domain": [0, 2.5], "nice": false},
            "axis": {"tickCount": 100, "values": [0,0.25,0.5,0.75,1,1.25,1.5,1.75,2,2.25,2.5], "labelExpr": "abs(datum.value*2-round(datum.value*2)) < 0.001 ? (datum.value == 0 ? '0' : format(datum.value, '.1f')) : ''", "title": null, "grid": true, "gridColor": {"condition": {"test": "abs(datum.value*2-round(datum.value*2)) < 0.001", "value": "#dddddd"}, "value": "#eeeeee"}, "tickSize": {"condition": {"test": "abs(datum.value*2-round(datum.value*2)) < 0.001", "value": 4}, "value": 2}}}
     }},
    {"data": {"values": [{}]}, "mark": {"type": "text", "text": "WRIBL: τb/τ̅b̅ profile", "fontSize": 20.5},
     "encoding": {"x": {"datum": 0.0}, "y": {"datum": 2.3}}}
   ]}
 ], "spacing": 57, "bounds": "flush"}
],
"spacing": 8
}
